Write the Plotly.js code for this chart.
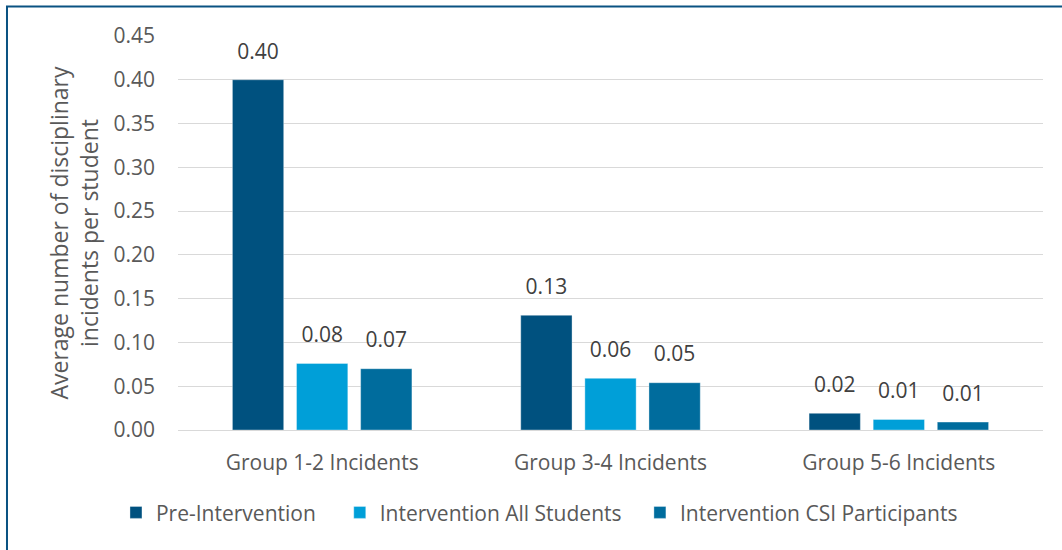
<!DOCTYPE html>
<html>
<head>
<meta charset="utf-8">
<script src="https://cdn.plot.ly/plotly-3.0.1.min.js"></script>
<style>
  html, body { margin: 0; padding: 0; background: #ffffff; }
  #chart { width: 1062px; height: 550px; }
</style>
</head>
<body>
<div id="chart"></div>
<script>
// Incident groups along the x axis
const categories = ['Group 1-2 Incidents', 'Group 3-4 Incidents', 'Group 5-6 Incidents'];

// Average number of disciplinary incidents per student, by period
const preIntervention = [0.400, 0.131, 0.019];
const interventionAll = [0.076, 0.059, 0.012];
const interventionCSI = [0.070, 0.054, 0.009];

const seriesNames = ['Pre-Intervention', 'Intervention All Students', 'Intervention CSI Participants'];
const seriesColors = ['#00517f', '#009fd8', '#006c9d'];

const yTickValues = [0, 0.05, 0.10, 0.15, 0.20, 0.25, 0.30, 0.35, 0.40, 0.45];

const FONT = 'Open Sans, Noto Sans, sans-serif';
const TEXT_GREY = '#595959';

const seriesValues = [preIntervention, interventionAll, interventionCSI];
const legendIds = ['legend', 'legend2', 'legend3'];
const groupIds = ['pre', 'all', 'csi'];

// Bars
const barTraces = seriesValues.map((vals, i) => ({
  type: 'bar',
  name: seriesNames[i],
  x: categories,
  y: vals,
  offsetgroup: groupIds[i],
  marker: { color: seriesColors[i], line: { color: 'rgba(255,255,255,0.35)', width: 1 } },
  legend: legendIds[i],
  hoverinfo: 'x+y+name'
}));

// Value labels sitting above each bar (grouped the same way as the bars)
const labelTraces = seriesValues.map((vals, i) => ({
  type: 'scatter',
  mode: 'markers+text',
  x: categories,
  y: vals,
  offsetgroup: groupIds[i],
  text: vals.map(v => v.toFixed(2)),
  textposition: 'top center',
  textfont: { family: FONT, size: 21, color: '#404040' },
  marker: { size: 24, opacity: 0 },
  cliponaxis: false,
  showlegend: false,
  hoverinfo: 'skip'
}));

// Legend entries laid out in one row below the axis
const legendRow = (x) => ({
  x: x, y: -0.21, xref: 'paper', yref: 'paper',
  xanchor: 'left', yanchor: 'middle',
  orientation: 'h',
  font: { family: FONT, size: 21, color: TEXT_GREY },
  bgcolor: 'rgba(0,0,0,0)',
  itemwidth: 30,
  tracegroupgap: 0
});

const layout = {
  width: 1062,
  height: 550,
  margin: { l: 178, r: 19, t: 36, b: 120 },
  paper_bgcolor: '#ffffff',
  plot_bgcolor: '#ffffff',
  font: { family: FONT, color: TEXT_GREY },
  barmode: 'group',
  bargap: 0.333,
  bargroupgap: 0.2,
  scattermode: 'group',
  scattergap: 0.333,
  showlegend: true,
  legend: legendRow(-0.0717),
  legend2: legendRow(0.187),
  legend3: legendRow(0.534),
  xaxis: {
    type: 'category',
    tickfont: { family: FONT, size: 21, color: TEXT_GREY },
    showline: true,
    linecolor: '#d9d9d9',
    linewidth: 1,
    ticks: '',
    ticklabelstandoff: 14,
    showgrid: false,
    fixedrange: true
  },
  yaxis: {
    range: [0, 0.45],
    tickvals: yTickValues,
    tickformat: '.2f',
    tickfont: { family: FONT, size: 21, color: TEXT_GREY },
    showgrid: true,
    gridcolor: '#d9d9d9',
    gridwidth: 1,
    zeroline: false,
    showline: false,
    ticks: '',
    ticklen: 0,
    ticklabelstandoff: 22,
    title: {
      text: 'Average number of disciplinary<br>incidents per student',
      font: { family: FONT, size: 23, color: TEXT_GREY },
      standoff: 8
    },
    fixedrange: true
  },
  shapes: [
    // frame around the figure (top and left edges visible)
    {
      type: 'rect', xref: 'paper', yref: 'paper',
      x0: -0.1977, x1: 1.06, y0: -0.40, y1: 1.0751,
      line: { color: '#0a5282', width: 2 },
      fillcolor: 'rgba(0,0,0,0)',
      layer: 'above'
    }
  ]
};

Plotly.newPlot('chart', barTraces.concat(labelTraces), layout, { displayModeBar: false });
</script>
</body>
</html>
